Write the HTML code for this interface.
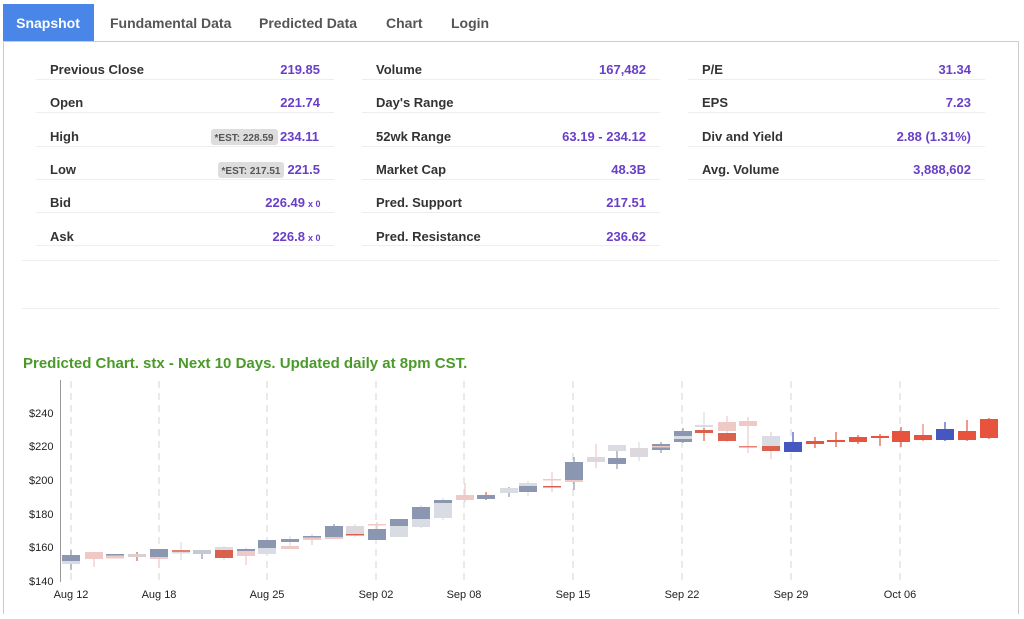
<!DOCTYPE html>
<html><head><meta charset="utf-8"><style>
body{margin:0;background:#fff;width:1024px;height:614px;overflow:hidden;font-family:"Liberation Sans",Arial,sans-serif}
</style></head><body>
<svg width="1024" height="614" xmlns="http://www.w3.org/2000/svg" font-family="Liberation Sans, Arial, sans-serif">
<!-- tabs -->
<rect x="3" y="4" width="91" height="37" fill="#4a86e8"/>
<text x="48" y="28" fill="#fff" font-size="14" font-weight="bold" text-anchor="middle">Snapshot</text>
<g fill="#555" font-size="14" font-weight="bold">
<text x="110" y="28">Fundamental Data</text>
<text x="259" y="28">Predicted Data</text>
<text x="386" y="28">Chart</text>
<text x="451" y="28">Login</text>
</g>
<path d="M3.5 41.5H1018.5V614M3.5 41.5V614" stroke="#ccc" fill="none"/>
<!-- table -->
<g stroke="#eee" stroke-width="1">
<line x1="36" y1="79.5" x2="334" y2="79.5"/><line x1="36" y1="112.5" x2="334" y2="112.5"/><line x1="36" y1="146.5" x2="334" y2="146.5"/><line x1="36" y1="179.5" x2="334" y2="179.5"/><line x1="36" y1="212.5" x2="334" y2="212.5"/><line x1="36" y1="245.5" x2="334" y2="245.5"/>
<line x1="362" y1="79.5" x2="660" y2="79.5"/><line x1="362" y1="112.5" x2="660" y2="112.5"/><line x1="362" y1="146.5" x2="660" y2="146.5"/><line x1="362" y1="179.5" x2="660" y2="179.5"/><line x1="362" y1="212.5" x2="660" y2="212.5"/><line x1="362" y1="245.5" x2="660" y2="245.5"/>
<line x1="688" y1="79.5" x2="985" y2="79.5"/><line x1="688" y1="112.5" x2="985" y2="112.5"/><line x1="688" y1="146.5" x2="985" y2="146.5"/><line x1="688" y1="179.5" x2="985" y2="179.5"/>
<line x1="22" y1="260.5" x2="999" y2="260.5"/><line x1="22" y1="308.5" x2="999" y2="308.5"/>
</g>
<g fill="#333" font-size="13" font-weight="bold">
<text x="50" y="74">Previous Close</text><text x="50" y="107">Open</text><text x="50" y="141">High</text><text x="50" y="174">Low</text><text x="50" y="207">Bid</text><text x="50" y="241">Ask</text>
<text x="376" y="74">Volume</text><text x="376" y="107">Day's Range</text><text x="376" y="141">52wk Range</text><text x="376" y="174">Market Cap</text><text x="376" y="207">Pred. Support</text><text x="376" y="241">Pred. Resistance</text>
<text x="702" y="74">P/E</text><text x="702" y="107">EPS</text><text x="702" y="141">Div and Yield</text><text x="702" y="174">Avg. Volume</text>
</g>
<rect x="211" y="129" width="67" height="16" rx="3" fill="#ddd"/>
<text x="244" y="141" font-size="10" fill="#555" font-weight="bold" text-anchor="middle">*EST: 228.59</text>
<rect x="218" y="162" width="66" height="16" rx="3" fill="#ddd"/>
<text x="251" y="174" font-size="10" fill="#555" font-weight="bold" text-anchor="middle">*EST: 217.51</text>
<g fill="#6a3fc8" font-size="13" font-weight="bold" text-anchor="end">
<text x="320" y="74">219.85</text><text x="320" y="107">221.74</text><text x="319" y="141">234.11</text><text x="320" y="174">221.5</text><text x="305" y="207">226.49</text><text x="305" y="241">226.8</text>
<text x="646" y="74">167,482</text><text x="646" y="141">63.19 - 234.12</text><text x="646" y="174">48.3B</text><text x="646" y="207">217.51</text><text x="646" y="241">236.62</text>
<text x="971" y="74">31.34</text><text x="971" y="107">7.23</text><text x="971" y="141">2.88 (1.31%)</text><text x="971" y="174">3,888,602</text>
</g>
<g fill="#6a3fc8" font-size="9" font-weight="bold"><text x="308" y="207">x 0</text><text x="308" y="241">x 0</text></g>
<text x="23" y="368" fill="#4a9a2a" font-size="15" font-weight="bold">Predicted Chart. stx - Next 10 Days. Updated daily at 8pm CST.</text>
<!-- chart grid -->
<g stroke="#ddd" stroke-dasharray="7,5" stroke-width="1.2">
<line x1="71" y1="381" x2="71" y2="582"/><line x1="159" y1="381" x2="159" y2="582"/><line x1="267" y1="381" x2="267" y2="582"/><line x1="376" y1="381" x2="376" y2="582"/><line x1="464" y1="381" x2="464" y2="582"/><line x1="573" y1="381" x2="573" y2="582"/><line x1="682" y1="381" x2="682" y2="582"/><line x1="791" y1="381" x2="791" y2="582"/><line x1="900" y1="381" x2="900" y2="582"/>
</g>
<line x1="60.5" y1="380" x2="60.5" y2="582" stroke="#999"/>
<g font-size="11" fill="#222">
<text x="29" y="417">$240</text><text x="29" y="450">$220</text><text x="29" y="484">$200</text><text x="29" y="518">$180</text><text x="29" y="551">$160</text><text x="29" y="585">$140</text>
</g>
<g font-size="11" fill="#222" text-anchor="middle">
<text x="71" y="598">Aug 12</text><text x="159" y="598">Aug 18</text><text x="267" y="598">Aug 25</text><text x="376" y="598">Sep 02</text><text x="464" y="598">Sep 08</text><text x="573" y="598">Sep 15</text><text x="682" y="598">Sep 22</text><text x="791" y="598">Sep 29</text><text x="900" y="598">Oct 06</text>
</g>
<!-- wicks -->
<g stroke-width="1.2">
<line x1="71" y1="550" x2="71" y2="570" stroke="#8b97b0"/>
<line x1="94" y1="552" x2="94" y2="567" stroke="#eec9c5"/>
<line x1="137" y1="552" x2="137" y2="561" stroke="#d9614e"/>
<line x1="159" y1="549" x2="159" y2="568" stroke="#eec9c5"/>
<line x1="181" y1="542" x2="181" y2="560" stroke="#d9dce3"/>
<line x1="202" y1="550" x2="202" y2="559" stroke="#8b97b0"/>
<line x1="224" y1="546" x2="224" y2="560" stroke="#d9dce3"/>
<line x1="246" y1="548" x2="246" y2="565" stroke="#eec9c5"/>
<line x1="290" y1="536" x2="290" y2="549" stroke="#d9dce3"/>
<line x1="312" y1="534" x2="312" y2="545" stroke="#eec9c5"/>
<line x1="334" y1="524" x2="334" y2="539" stroke="#8b97b0"/>
<line x1="355" y1="524" x2="355" y2="537" stroke="#d9dce3"/>
<line x1="377" y1="522" x2="377" y2="534" stroke="#eec9c5"/>
<line x1="421" y1="505" x2="421" y2="528" stroke="#d9dce3"/>
<line x1="443" y1="498" x2="443" y2="520" stroke="#d9dce3"/>
<line x1="465" y1="483" x2="465" y2="502" stroke="#eec9c5"/>
<line x1="486" y1="492" x2="486" y2="500" stroke="#d9614e"/>
<line x1="509" y1="487" x2="509" y2="497" stroke="#8b97b0"/>
<line x1="528" y1="481" x2="528" y2="496" stroke="#d9dce3"/>
<line x1="552" y1="472" x2="552" y2="492" stroke="#eec9c5"/>
<line x1="574" y1="457" x2="574" y2="490" stroke="#8b97b0"/>
<line x1="596" y1="444" x2="596" y2="468" stroke="#eec9c5"/>
<line x1="617" y1="445" x2="617" y2="469" stroke="#8b97b0"/>
<line x1="639" y1="442" x2="639" y2="461" stroke="#d9dce3"/>
<line x1="661" y1="442" x2="661" y2="453" stroke="#8b97b0"/>
<line x1="683" y1="428" x2="683" y2="443" stroke="#8b97b0"/>
<line x1="704" y1="412" x2="704" y2="441" stroke="#d9dce3"/>
<line x1="704" y1="428" x2="704" y2="441" stroke="#d9614e"/>
<line x1="727" y1="416" x2="727" y2="442" stroke="#eec9c5"/>
<line x1="748" y1="417" x2="748" y2="453" stroke="#eec9c5"/>
<line x1="771" y1="432" x2="771" y2="459" stroke="#eec9c5"/>
<line x1="793" y1="432" x2="793" y2="452" stroke="#4657c0"/>
<line x1="815" y1="437" x2="815" y2="448" stroke="#e8533d"/>
<line x1="836" y1="432" x2="836" y2="447" stroke="#e8533d"/>
<line x1="858" y1="435" x2="858" y2="444" stroke="#e8533d"/>
<line x1="880" y1="434" x2="880" y2="446" stroke="#e8533d"/>
<line x1="901" y1="427" x2="901" y2="447" stroke="#e8533d"/>
<line x1="923" y1="424" x2="923" y2="441" stroke="#ee8070"/>
<line x1="945" y1="422" x2="945" y2="441" stroke="#4657c0"/>
<line x1="967" y1="420" x2="967" y2="441" stroke="#e8533d"/>
<line x1="989" y1="418" x2="989" y2="439" stroke="#e8533d"/>
</g>
<!-- bodies -->
<g>
<rect x="62" y="555" width="18" height="9" fill="#8b97b0"/><rect x="62" y="561" width="18" height="3" fill="#d9dce3"/>
<rect x="85" y="552" width="18" height="7" fill="#eec9c5"/>
<rect x="106" y="554" width="18" height="1.5" fill="#8b97b0"/><rect x="106" y="555.5" width="18" height="3" fill="#eec9c5"/>
<rect x="128" y="554" width="18" height="3" fill="#dccfd3"/>
<rect x="150" y="549" width="18" height="8" fill="#8b97b0"/><rect x="150" y="557" width="18" height="2" fill="#eec9c5"/>
<rect x="172" y="550" width="18" height="2" fill="#e8806f"/><rect x="172" y="552" width="18" height="1.5" fill="#d9dce3"/>
<rect x="193" y="550" width="18" height="4" fill="#c4c9d5"/>
<rect x="215" y="547" width="18" height="3" fill="#d9dce3"/><rect x="215" y="550" width="18" height="8" fill="#d9614e"/>
<rect x="237" y="549" width="18" height="2" fill="#8b97b0"/><rect x="237" y="551" width="18" height="5" fill="#eec9c5"/>
<rect x="258" y="540" width="18" height="8" fill="#8b97b0"/><rect x="258" y="548" width="18" height="6" fill="#d9dce3"/>
<rect x="281" y="539" width="18" height="3" fill="#8b97b0"/><rect x="281" y="546" width="18" height="3" fill="#eec9c5"/>
<rect x="303" y="536" width="18" height="1.5" fill="#8b97b0"/><rect x="303" y="537.5" width="18" height="2.5" fill="#eec9c5"/>
<rect x="325" y="526" width="18" height="11" fill="#8b97b0"/><rect x="325" y="537" width="18" height="2" fill="#eec9c5"/>
<rect x="346" y="526" width="18" height="9" fill="#dcd8dd"/><rect x="346" y="534" width="18" height="1.5" fill="#d9614e"/>
<rect x="368" y="524" width="18" height="1.5" fill="#eec9c5"/><rect x="368" y="529" width="18" height="11" fill="#8b97b0"/>
<rect x="390" y="519" width="18" height="7" fill="#8b97b0"/><rect x="390" y="526" width="18" height="11" fill="#d9dce3"/>
<rect x="412" y="507" width="18" height="12" fill="#8b97b0"/><rect x="412" y="519" width="18" height="8" fill="#d9dce3"/>
<rect x="434" y="500" width="18" height="3" fill="#8b97b0"/><rect x="434" y="503" width="18" height="15" fill="#d9dce3"/>
<rect x="456" y="495" width="18" height="5" fill="#eec9c5"/>
<rect x="477" y="495" width="18" height="4" fill="#8b97b0"/>
<rect x="500" y="488" width="18" height="5" fill="#d9dce3"/>
<rect x="519" y="483" width="18" height="3" fill="#d9dce3"/><rect x="519" y="486" width="18" height="6" fill="#8b97b0"/>
<rect x="543" y="479" width="18" height="1.5" fill="#eec9c5"/><rect x="543" y="486" width="18" height="1.5" fill="#d9614e"/>
<rect x="565" y="462" width="18" height="18" fill="#8b97b0"/><rect x="565" y="480" width="18" height="2" fill="#eec9c5"/>
<rect x="587" y="457" width="18" height="5" fill="#dcd8dd"/>
<rect x="608" y="445" width="18" height="6" fill="#d9dce3"/><rect x="608" y="458" width="18" height="6" fill="#8b97b0"/>
<rect x="630" y="448" width="18" height="9" fill="#dcd8dd"/>
<rect x="652" y="444" width="18" height="6" fill="#8b97b0"/><rect x="652" y="446" width="18" height="1.5" fill="#eec9c5"/>
<rect x="674" y="431" width="18" height="11" fill="#8b97b0"/><rect x="674" y="436" width="18" height="3" fill="#d9dce3"/>
<rect x="695" y="425" width="18" height="2" fill="#d9dce3"/><rect x="695" y="430" width="18" height="3" fill="#d9614e"/>
<rect x="718" y="422" width="18" height="9" fill="#eec9c5"/><rect x="718" y="433" width="18" height="8" fill="#d9614e"/>
<rect x="739" y="421" width="18" height="5" fill="#eec9c5"/><rect x="739" y="446" width="18" height="1.5" fill="#e8806f"/>
<rect x="762" y="436" width="18" height="10" fill="#d9dce3"/><rect x="762" y="446" width="18" height="5" fill="#d9614e"/>
<rect x="784" y="442" width="18" height="10" fill="#4657c0"/>
<rect x="806" y="441" width="18" height="3" fill="#e8533d"/>
<rect x="827" y="440" width="18" height="2" fill="#e8533d"/>
<rect x="849" y="437" width="18" height="5" fill="#e8533d"/>
<rect x="871" y="436" width="18" height="2" fill="#e8533d"/>
<rect x="892" y="431" width="18" height="11" fill="#e8533d"/>
<rect x="914" y="435" width="18" height="5" fill="#e8533d"/>
<rect x="936" y="429" width="18" height="11" fill="#4657c0"/>
<rect x="958" y="431" width="18" height="9" fill="#e8533d"/>
<rect x="980" y="419" width="18" height="19" fill="#e8533d"/>
</g>
</svg>
</body></html>
